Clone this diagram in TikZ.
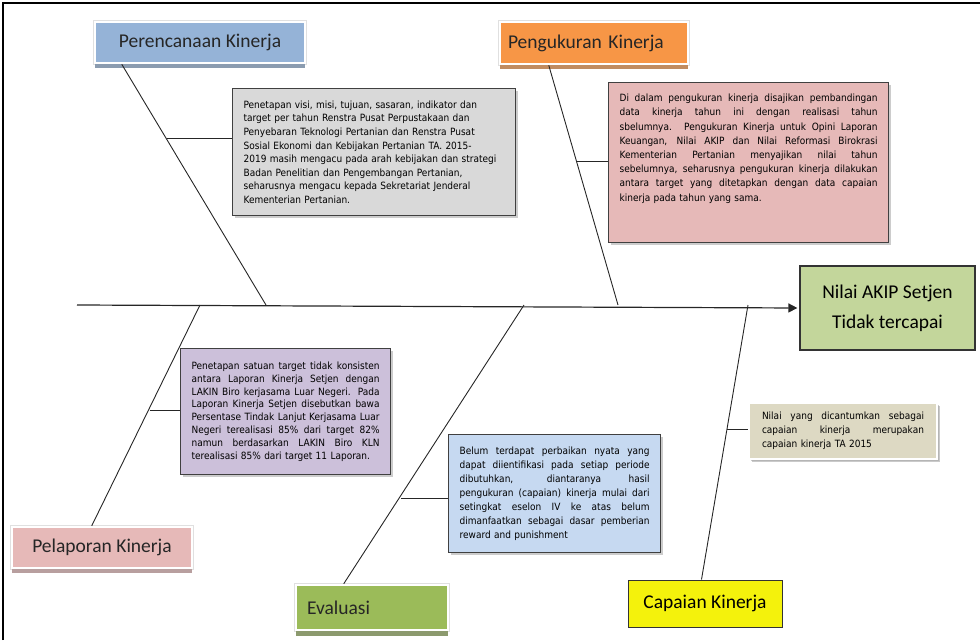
\documentclass[tikz,border=0pt]{standalone}
\usepackage{fontspec}
\setmainfont{Carlito}
\newfontfamily\notefont[FakeStretch=0.9]{DejaVu Sans}
\usetikzlibrary{arrows.meta,shadows}
\definecolor{planblue}{HTML}{95B3D7}
\definecolor{measorange}{HTML}{F79646}
\definecolor{reportpink}{HTML}{E6B9B8}
\definecolor{evalgreen}{HTML}{9BBB59}
\definecolor{capyellow}{HTML}{F4F20C}
\definecolor{effectgreen}{HTML}{C3D69B}
\definecolor{notegray}{HTML}{D9D9D9}
\definecolor{notepink}{HTML}{E6B9B8}
\definecolor{notepurple}{HTML}{CCC0DA}
\definecolor{noteblue}{HTML}{C6D9F1}
\definecolor{notetan}{HTML}{DDD9C3}
\newcommand{\jl}[1]{\makebox[\hsize][s]{\spaceskip=0pt\xspaceskip=0pt\relax #1}\\}
\begin{document}
\begin{tikzpicture}[x=1pt, y=-1pt,
  lbl/.style = {draw=white, line width=2.5pt, text=black!85, font=\fontsize{19.5}{22}\selectfont, inner sep=0pt,
    preaction={draw=black!12, line width=4.5pt}},
  note/.style = {anchor=north west, draw=black!75, line width=1.2pt, inner xsep=11pt, inner ysep=0pt, align=left,
    drop shadow={shadow xshift=2pt, shadow yshift=-2pt, fill=black!40, opacity=.5}},
  bone/.style = {line width=0.9pt, black!85}]
  \useasboundingbox (0,0) rectangle (980,640);
  \draw[line width=1.5pt] (3,640) -- (3,3) -- (980,3);

  % heads of the fish
  \node[lbl, fill=planblue, minimum width=210, minimum height=41, drop shadow={shadow xshift=0pt, shadow yshift=-5pt, fill=planblue!55!gray, opacity=1}] (plan) at (200,42.5) {Perencanaan Kinerja};
  \node[lbl, fill=measorange, minimum width=188, minimum height=42, text width=172, align=left, drop shadow={shadow xshift=0pt, shadow yshift=-5pt, fill=measorange!55!gray, opacity=1}] (meas) at (594,43) {Pengukuran Kinerja};
  \node[lbl, fill=reportpink, minimum width=180, minimum height=41, drop shadow={shadow xshift=0pt, shadow yshift=-5pt, fill=reportpink!55!gray, opacity=1}] (report) at (102,547.5) {Pelaporan Kinerja};
  \node[lbl, fill=evalgreen, minimum width=152, minimum height=45, text width=130, align=left, drop shadow={shadow xshift=0pt, shadow yshift=-6pt, fill=evalgreen!45!gray, opacity=1}] (eval) at (372,607.5) {Evaluasi};
  \node[draw=black!80, line width=1pt, fill=capyellow, minimum width=154, minimum height=47, font=\fontsize{19.5}{22}\selectfont] (cap) at (705,603.5) {Capaian Kinerja};
  \node[draw=black!80, line width=1.2pt, fill=effectgreen, minimum width=175, minimum height=84, align=center, font=\fontsize{19.5}{30}\selectfont] (effect) at (887.5,308) {Nilai AKIP Setjen\\Tidak tercapai};

  % notes
  \node[note, fill=notegray, minimum width=283, minimum height=127, text width=261, font=\notefont\fontsize{10}{13.6}\selectfont] (note1) at (232,88) {Penetapan visi, misi, tujuan, sasaran, indikator dan\\
    target per tahun Renstra Pusat Perpustakaan dan\\
    Penyebaran Teknologi Pertanian dan Renstra Pusat\\
    Sosial Ekonomi dan Kebijakan Pertanian TA. 2015-\\
    2019 masih mengacu pada arah kebijakan dan strategi\\
    Badan Penelitian dan Pengembangan Pertanian,\\
    seharusnya mengacu kepada Sekretariat Jenderal\\
    Kementerian Pertanian.};
  \node[note, fill=notepink, minimum width=280, minimum height=160, text width=258, font=\notefont\fontsize{10}{14.2}\selectfont] (note2) at (608,82) {\jl{Di dalam pengukuran kinerja disajikan pembandingan}
    \jl{data kinerja tahun ini dengan realisasi tahun}
    \jl{sbelumnya. Pengukuran Kinerja untuk Opini Laporan}
    \jl{Keuangan, Nilai AKIP dan Nilai Reformasi Birokrasi}
    \jl{Kementerian Pertanian menyajikan nilai tahun}
    \jl{sebelumnya, seharusnya pengukuran kinerja dilakukan}
    \jl{antara target yang ditetapkan dengan data capaian}
    kinerja pada tahun yang sama.\par\vspace*{16pt}\mbox{}};
  \node[note, fill=notepurple, minimum width=210, minimum height=126, text width=188, font=\notefont\fontsize{10}{12.9}\selectfont] (note3) at (180,348) {\jl{Penetapan satuan target tidak konsisten}
    \jl{antara Laporan Kinerja Setjen dengan}
    \jl{LAKIN Biro kerjasama Luar Negeri. Pada}
    \jl{Laporan Kinerja Setjen disebutkan bawa}
    \jl{Persentase Tindak Lanjut Kerjasama Luar}
    \jl{Negeri terealisasi 85\% dari target 82\%}
    \jl{namun berdasarkan LAKIN Biro KLN}
    terealisasi 85\% dari target 11 Laporan.};
  \node[note, fill=noteblue, minimum width=212, minimum height=118, text width=190, font=\notefont\fontsize{10}{14}\selectfont] (note4) at (448,434) {\jl{Belum terdapat perbaikan nyata yang}
    \jl{dapat diientifikasi pada setiap periode}
    \jl{dibutuhkan, diantaranya hasil}
    \jl{pengukuran (capaian) kinerja mulai dari}
    \jl{setingkat eselon IV ke atas belum}
    \jl{dimanfaatkan sebagai dasar pemberian}
    reward and punishment};
  \node[note, draw=white, line width=2pt, fill=notetan, minimum width=188, minimum height=56, text width=162, font=\notefont\fontsize{10}{14}\selectfont, drop shadow={shadow xshift=3pt, shadow yshift=-3pt, fill=black!35, opacity=.6}] (note5) at (748,402) {\jl{Nilai yang dicantumkan sebagai}
    \jl{capaian kinerja merupakan}
    capaian kinerja TA 2015};

  % spine and bones
  \coordinate (tail) at (77,305);
  \coordinate (s1) at (266,305);
  \coordinate (s2) at (618,305);
  \coordinate (s3) at (200,305);
  \coordinate (s4) at (524,305);
  \coordinate (s5) at (748,305);
  \draw[line width=1.2pt, black!85, -{Triangle[length=9pt, width=9pt]}] (tail) -- (effect.west) [shorten >=2pt];
  \draw[bone] ([xshift=28pt]plan.south west) -- (s1);
  \draw[bone] ([xshift=50pt]meas.south west) -- (s2);
  \draw[bone] (s3) -- ([xshift=81pt]report.north west);
  \draw[bone] (s4) -- ([xshift=49pt]eval.north west);
  \draw[bone] (s5) -- ([xshift=74pt]cap.north west);

  % twigs to the notes
  \coordinate (k1) at (167,138);
  \coordinate (k2) at (577,161);
  \coordinate (k3) at (149.5,410);
  \coordinate (k4) at (401,498);
  \coordinate (k5) at (727,429);
  \draw[bone] (k1) -- (k1 -| note1.west);
  \draw[bone] (k2) -- (k2 -| note2.west);
  \draw[bone] (k3) -- (k3 -| note3.west);
  \draw[bone] (k4) -- (k4 -| note4.west);
  \draw[bone] (k5) -- (k5 -| note5.west);
\end{tikzpicture}
\end{document}
